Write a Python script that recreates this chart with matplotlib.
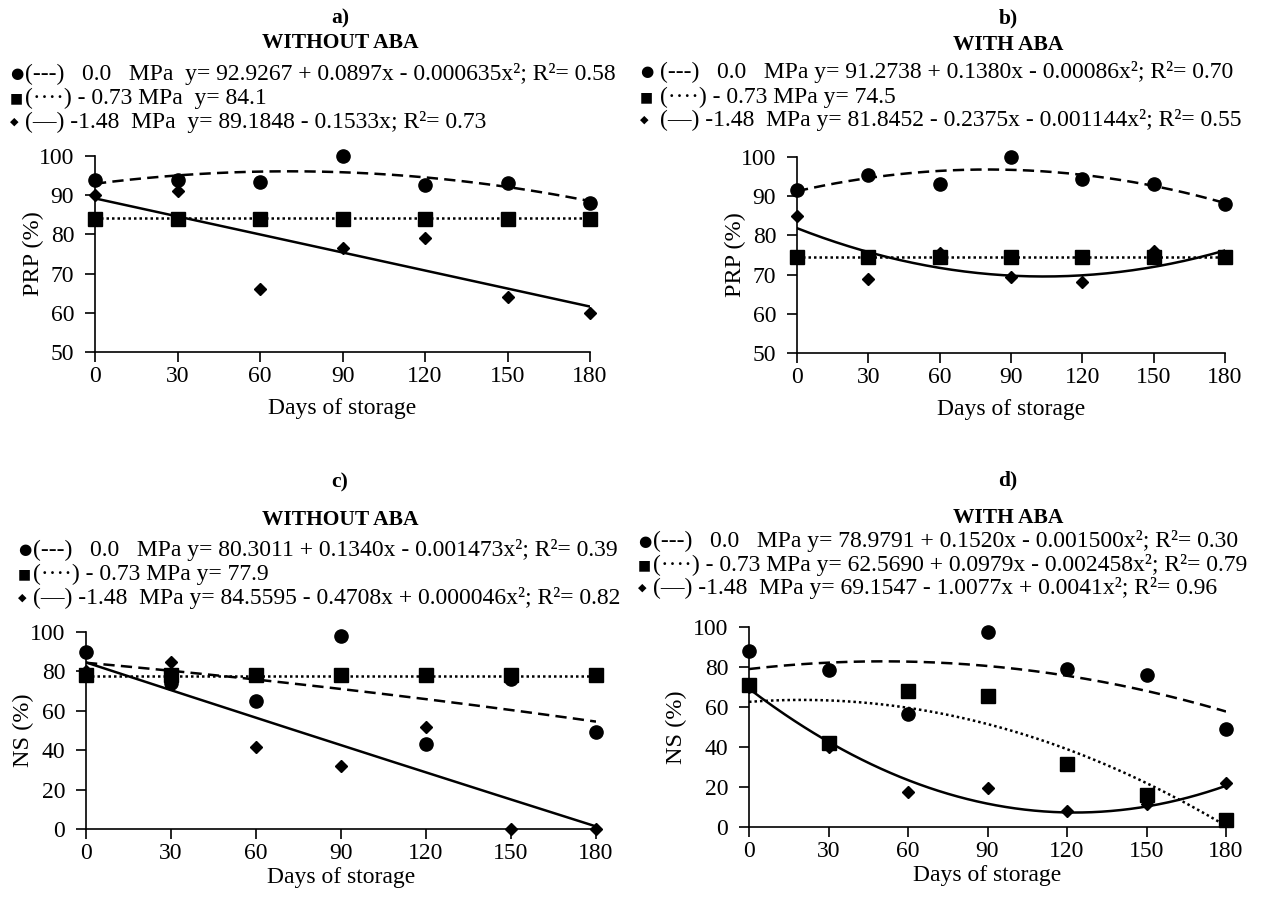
import numpy as np
from matplotlib import pyplot as plt

plt.rcParams['font.family'] = ['Liberation Serif', 'DejaVu Sans']

W, H = 1268, 899

# storage days
days = [0, 30, 60, 90, 120, 150, 180]

# PRP (%) without ABA
prp_wo_00 = [94, 94, 93.3, 100, 92.5, 93, 88]
prp_wo_073 = [84, 84, 84, 84, 84, 84, 84]
prp_wo_148 = [90, 91, 66, 76.5, 79, 64, 60]

# PRP (%) with ABA
prp_w_00 = [91.5, 95.5, 93, 100, 94.5, 93, 88]
prp_w_073 = [74.5, 74.5, 74.5, 74.5, 74.5, 74.5, 74.5]
prp_w_148 = [85, 69, 75.5, 69.5, 68, 76, 74.5]

# NS (%) without ABA
ns_wo_00 = [90, 74, 65, 98, 43, 76, 49]
ns_wo_073 = [78, 78, 78, 78, 78, 78, 78]
ns_wo_148 = [80, 85, 41.5, 32, 52, 0, 0]

# NS (%) with ABA
ns_w_00 = [88, 78.5, 56.5, 97.5, 79, 76, 49]
ns_w_073 = [71, 42, 68, 65.5, 31.5, 16, 3.5]
ns_w_148 = [70, 40, 17.5, 19.5, 8, 11.5, 22]

# trend line coefficients (highest power first), as drawn in the figure
fit_a = [[-0.000635, 0.0897, 92.9267], [84.1], [-0.1533, 89.1848]]
fit_b = [[-0.00086, 0.1380, 91.2738], [74.5], [0.001144, -0.2375, 81.8452]]
fit_c = [[-0.0002, -0.13, 84.4], [77.9], [0.000046, -0.4708, 84.5595]]
fit_d = [[-0.001500, 0.1520, 78.9791], [-0.002458, 0.0979, 62.5690], [0.0041, -1.0077, 69.1547]]

leg_a = ["(---)   0.0   MPa  y= 92.9267 + 0.0897x - 0.000635x²; R²= 0.58",
         "(····) - 0.73 MPa  y= 84.1",
         "(—) -1.48  MPa  y= 89.1848 - 0.1533x; R²= 0.73"]
leg_b = ["(---)   0.0   MPa y= 91.2738 + 0.1380x - 0.00086x²; R²= 0.70",
         "(····) - 0.73 MPa y= 74.5",
         "(—) -1.48  MPa y= 81.8452 - 0.2375x - 0.001144x²; R²= 0.55"]
leg_c = ["(---)   0.0   MPa y= 80.3011 + 0.1340x - 0.001473x²; R²= 0.39",
         "(····) - 0.73 MPa y= 77.9",
         "(—) -1.48  MPa y= 84.5595 - 0.4708x + 0.000046x²; R²= 0.82"]
leg_d = ["(---)   0.0   MPa y= 78.9791 + 0.1520x - 0.001500x²; R²= 0.30",
         "(····) - 0.73 MPa y= 62.5690 + 0.0979x - 0.002458x²; R²= 0.79",
         "(—) -1.48  MPa y= 69.1547 - 1.0077x + 0.0041x²; R²= 0.96"]
symbols = ["●", "■", "◆"]
symbol_sizes = [11, 10, 8]

fig = plt.figure(figsize=(W / 100, H / 100), dpi=100)

def px_axes(left, right, top, bottom):
    return fig.add_axes([left / W, 1 - bottom / H, (right - left) / W, (bottom - top) / H])

def ftext(x, y, s, **kw):
    fig.text(x / W, 1 - y / H, s, **kw)

def panel(ax, series, fits, ylim, ystep, ylabel, xpad, ypad):
    xx = np.linspace(0, 180, 200)
    styles = [dict(ls=(0, (4.5, 2.5)), lw=1.8), dict(ls=(0, (1, 1.2)), lw=1.8), dict(ls='-', lw=1.8)]
    markers = [dict(marker='o', ms=9.5), dict(marker='s', ms=9.5), dict(marker='D', ms=6.5)]
    for vals, coef, st, mk in zip(series, fits, styles, markers):
        ax.plot(days, vals, ls='none', color='black', clip_on=False, zorder=3, **mk)
        ax.plot(xx, np.polyval(coef, xx), color='black', zorder=2, **st)
    ax.set_xlim(0, 180)
    ax.set_ylim(*ylim)
    ax.set_xticks(days)
    ax.set_yticks(np.arange(ylim[0], ylim[1] + 1, ystep))
    for s in ['top', 'right']:
        ax.spines[s].set_visible(False)
    for s in ['left', 'bottom']:
        ax.spines[s].set_linewidth(1.2)
    ax.tick_params(direction='out', length=7, width=1.2, labelsize=17)
    ax.tick_params(axis='y', pad=8)
    ax.tick_params(axis='x', pad=3)
    ax.set_xlabel("Days of storage", fontsize=17, labelpad=xpad)
    ax.set_ylabel(ylabel, fontsize=17.5, labelpad=ypad)

ax_a = px_axes(95, 590, 156, 352)
panel(ax_a, [prp_wo_00, prp_wo_073, prp_wo_148], fit_a, (50, 100), 10, "PRP (%)", 8, -4)
ax_b = px_axes(797, 1225, 157, 353)
panel(ax_b, [prp_w_00, prp_w_073, prp_w_148], fit_b, (50, 100), 10, "PRP (%)", 8, -4)
ax_c = px_axes(86, 596, 632, 829)
panel(ax_c, [ns_wo_00, ns_wo_073, ns_wo_148], fit_c, (0, 100), 20, "NS (%)", 2, -3)
ax_d = px_axes(749, 1226, 627, 827)
panel(ax_d, [ns_w_00, ns_w_073, ns_w_148], fit_d, (0, 100), 20, "NS (%)", 2, 4)

# panel letters and headings
for x, y1, y2, letter, head in [(340, 18, 43, "a)", "WITHOUT ABA"),
                                (1008, 18, 45, "b)", "WITH ABA"),
                                (340, 482, 520, "c)", "WITHOUT ABA"),
                                (1008, 480, 518, "d)", "WITH ABA")]:
    ftext(x, y1, letter, ha='center', va='center', fontsize=15.5, fontweight='bold')
    ftext(x, y2, head, ha='center', va='center', fontsize=15.5, fontweight='bold')

# equation legends: marker glyph then text
for x, gap, ys, lines in [(10, 15, [74, 98, 122], leg_a), (640, 20, [72, 97, 120], leg_b),
                          (18, 15, [550, 574, 598], leg_c), (638, 15, [541, 565, 588], leg_d)]:
    for y, s, sym, ss in zip(ys, lines, symbols, symbol_sizes):
        ftext(x, y, sym, ha='left', va='center', fontsize=ss, family='DejaVu Sans')
        ftext(x + gap, y, s, ha='left', va='center', fontsize=17)

fig.savefig("out.png", dpi=100)
